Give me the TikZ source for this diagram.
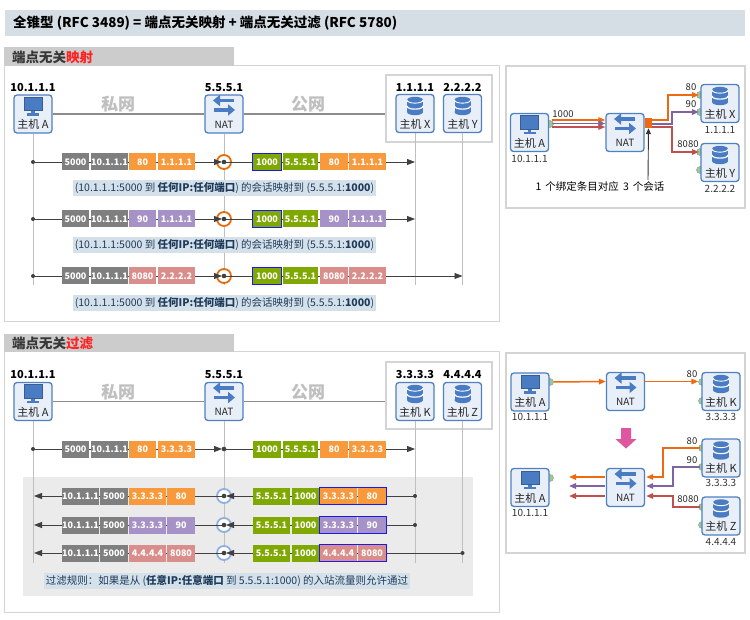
\documentclass[tikz,border=0pt]{standalone}
\usepackage{fontspec}
\setmainfont{Noto Sans CJK SC}
\usetikzlibrary{arrows.meta}
\definecolor{titlebg}{HTML}{D6DEE5}
\definecolor{hdrbg}{HTML}{CCCCCC}
\definecolor{hdrred}{HTML}{FF2222}
\definecolor{framegray}{HTML}{D4D4D4}
\definecolor{boxfill}{HTML}{E8EFF8}
\definecolor{boxline}{HTML}{4F80C2}
\definecolor{iconblue}{HTML}{4A7CC4}
\definecolor{cgray}{HTML}{7F7F7F}
\definecolor{corange}{HTML}{F89A3C}
\definecolor{cpurple}{HTML}{A692C6}
\definecolor{cpink}{HTML}{DA8E8C}
\definecolor{cgreen}{HTML}{7FA800}
\definecolor{capbg}{HTML}{D5E1EA}
\definecolor{captext}{HTML}{1F3B5A}
\definecolor{ringorange}{HTML}{E46C0A}
\definecolor{ringblue}{HTML}{8EB0E0}
\definecolor{lifegray}{HTML}{BFBFBF}
\definecolor{netgray}{HTML}{8C8C8C}
\definecolor{nettext}{HTML}{BFBFBF}
\definecolor{linedark}{HTML}{404040}
\definecolor{aorange}{HTML}{EE6A12}
\definecolor{apurple}{HTML}{8064A2}
\definecolor{ared}{HTML}{C0504D}
\definecolor{portgreen}{HTML}{9CC89C}
\definecolor{pinkarr}{HTML}{E0559F}
\definecolor{bluebd}{HTML}{1A1AF0}
\definecolor{panelbg}{HTML}{EBEBEB}
\tikzset{
 hostbox/.style={draw=boxline, fill=boxfill, line width=1.3pt, rounded corners=3pt, minimum width=38pt, minimum height=38pt, inner sep=0pt},
 boxlabel/.style={font=\fontsize{11}{12}\selectfont, text=black!85, inner sep=0pt},
 toplabel/.style={font=\fontsize{11}{12}\selectfont\bfseries, inner sep=0pt},
 iplabel/.style={font=\fontsize{10}{11}\selectfont, text=black!80, inner sep=0pt},
 smalllabel/.style={font=\fontsize{9.5}{10}\selectfont, text=black!85, inner sep=0pt},
 cell/.style={minimum height=17pt, inner sep=0pt, text=white, font=\fontsize{9}{10}\selectfont\bfseries},
 caption/.style={fill=capbg, text=captext, inner xsep=2pt, inner ysep=2pt, font=\fontsize{10.5}{12}\selectfont},
 rowline/.style={draw=linedark, line width=0.9pt},
 rowarrow/.style={rowline, -{Triangle[length=8pt,width=6pt]}},
 lifeline/.style={draw=lifegray, line width=1pt},
 netline/.style={draw=netgray, line width=1.5pt},
 nettxt/.style={font=\fontsize{17}{18}\selectfont\bfseries, text=nettext, inner sep=0pt},
 ringo/.style={circle, minimum size=14pt, inner sep=0pt, fill=white, draw=ringorange, line width=1.8pt},
 ringb/.style={circle, minimum size=14pt, inner sep=0pt, fill=white, draw=ringblue, line width=1.8pt},
 natarr/.style={draw=iconblue, line width=3.4pt, -{Triangle[length=7pt,width=11pt]}},
 grpbox/.style={draw=framegray, fill=white, line width=1.2pt, minimum width=106pt, minimum height=67pt, inner sep=0pt},
 flow/.style={line width=1.5pt, -{Triangle[length=7pt,width=5.5pt]}},
 port/.style={fill=portgreen, draw=portgreen!80!black, line width=0.4pt},
}
\newcommand{\hostpc}[4]{%
  \node[hostbox] (#1) at (#2,#3) {};
  \begin{scope}[shift={(#1.center)}]
    \fill[iconblue!75!black] (-9.5,-17) rectangle (9.5,-2.5);
    \fill[iconblue] (-8.5,-16) rectangle (8.5,-3.5);
    \fill[iconblue] (-1.8,-2.5) rectangle (1.8,0);
    \fill[iconblue] (-6,-0.5) rectangle (6,1.6);
    \node[boxlabel] (#1-t) at (0,10.5) {#4};
  \end{scope}}
\newcommand{\hostdb}[4]{%
  \node[hostbox] (#1) at (#2,#3) {};
  \begin{scope}[shift={(#1.center)}]
    \fill[iconblue] (-8,-13.5) rectangle (8,-1.5);
    \fill[iconblue] (0,-13.5) ellipse (8 and 3.2);
    \fill[iconblue] (0,-1.5) ellipse (8 and 3.2);
    \draw[white,line width=0.9pt] (-8,-13.5) .. controls (-8,-9.3) and (8,-9.3) .. (8,-13.5);
    \draw[white,line width=1.2pt] (-8,-7.5) .. controls (-8,-3.3) and (8,-3.3) .. (8,-7.5);
    \node[boxlabel] (#1-t) at (0,10.5) {#4};
  \end{scope}}
\newcommand{\hostnat}[3]{%
  \node[hostbox] (#1) at (#2,#3) {};
  \begin{scope}[shift={(#1.center)}]
    \draw[natarr] (10,-13.5) -- (-11,-13.5);
    \draw[natarr] (-10,-4) -- (11,-4);
    \node[boxlabel, font=\fontsize{10}{11}\selectfont] (#1-t) at (0,10.5) {NAT};
  \end{scope}}
\newcommand{\pkt}[6]{\node[cell, fill=#5, minimum width={(#3-#2)*1pt}] (#1) at ({(#2+#3)/2},#4) {#6};}
\newcommand{\outrow}[5]{% prefix, y, colour, port, ip
  \pkt{#1a}{62}{89}{#2}{cgray}{5000}
  \pkt{#1b}{91}{128}{#2}{cgray}{10.1.1.1}
  \pkt{#1c}{129}{156}{#2}{#3}{#4}
  \pkt{#1d}{158}{195}{#2}{#3}{#5}
  \pkt{#1e}{253}{281}{#2}{cgreen}{1000}
  \pkt{#1f}{283}{318}{#2}{cgreen}{5.5.5.1}
  \pkt{#1g}{320}{348}{#2}{#3}{#4}
  \pkt{#1h}{349}{386}{#2}{#3}{#5}}
\newcommand{\inrow}[5]{% prefix, y, colour, ip, port
  \pkt{#1a}{62}{99}{#2}{cgray}{10.1.1.1}
  \pkt{#1b}{100}{128}{#2}{cgray}{5000}
  \pkt{#1c}{129}{166}{#2}{#3}{#4}
  \pkt{#1d}{167}{195}{#2}{#3}{#5}
  \pkt{#1e}{253}{290}{#2}{cgreen}{5.5.5.1}
  \pkt{#1f}{292}{319}{#2}{cgreen}{1000}
  \pkt{#1g}{320}{357}{#2}{#3}{#4}
  \pkt{#1h}{358}{386}{#2}{#3}{#5}
  \draw[draw=bluebd, line width=1.3pt] (#1g.north west) rectangle (#1h.south east);}
\begin{document}
\begin{tikzpicture}[x=1pt,y=-1pt]
\useasboundingbox (0,0) rectangle (750,620);
\fill[white] (0,0) rectangle (750,620);
% title
\fill[titlebg] (5,10) rectangle (745,36);
\node[anchor=west, font=\fontsize{13.5}{15}\selectfont\bfseries, inner sep=0pt] (title) at (13,23) {全锥型 (RFC 3489) = 端点无关映射 + 端点无关过滤 (RFC 5780)};
% section frames
\draw[framegray, line width=1pt] (4,66) rectangle (499,322);
\fill[hdrbg] (4,47) rectangle (234,66);
\node[anchor=west, font=\fontsize{13.5}{15}\selectfont\bfseries, text=black!78, inner sep=0pt] (h1) at (12,57) {端点无关\textcolor{hdrred}{映射}};
\draw[framegray, line width=1pt] (4,352) rectangle (499,612);
\fill[hdrbg] (4,334) rectangle (234,352);
\node[anchor=west, font=\fontsize{13.5}{15}\selectfont\bfseries, text=black!78, inner sep=0pt] (h2) at (12,343) {端点无关\textcolor{hdrred}{过滤}};
\draw[framegray, line width=1.3pt] (506,66) rectangle (745,208);
\draw[framegray, line width=1.3pt] (506,353) rectangle (745,553);
\fill[panelbg] (23,477) rectangle (473,596);

% ================= section 1 =================
\node[grpbox] (G1) at (439,108.5) {};
\coordinate (bot1) at (0,285);
\hostpc{A1}{33}{114}{主机 A}
\hostnat{N1}{224}{114}
\hostdb{X1}{415}{113.5}{主机 X}
\hostdb{Y1}{462.5}{113.5}{主机 Y}
\node[toplabel] (A1ip) at (33,88) {10.1.1.1};
\node[toplabel] (N1ip) at (224,88) {5.5.5.1};
\node[toplabel] (X1ip) at (415,88) {1.1.1.1};
\node[toplabel] (Y1ip) at (462.5,88) {2.2.2.2};
\draw[netline] (A1) -- (N1);
\draw[netline] (N1) -- (N1 -| G1.west);
\node[nettxt] (pv1) at (118,104) {私网};
\node[nettxt] (pb1) at (308,104) {公网};
\draw[lifeline] (A1.south) -- (A1.south |- bot1);
\draw[lifeline] (N1.south) -- (N1.south |- bot1);
\draw[lifeline] (X1.south) -- (X1.south |- bot1);
\draw[lifeline] (Y1.south) -- (Y1.south |- bot1);

\foreach \yy/\ee/\nm in {162/415/1, 219/415/2, 276/462.5/3}{
  \coordinate (s\nm) at (33,\yy);
  \coordinate (e\nm) at (\ee,\yy);
  \node[ringo] (R\nm) at (224,\yy) {};
  \draw[rowarrow] (s\nm) -- ([xshift=-2pt]R\nm.center);
  \draw[rowarrow] (R\nm.center) -- (e\nm);
  \fill[linedark] (s\nm) circle (2);
  \fill[linedark] (R\nm.center) circle (2.3);
}
\outrow{p}{162}{corange}{80}{1.1.1.1}
\outrow{q}{219}{cpurple}{90}{1.1.1.1}
\outrow{r}{276}{cpink}{8080}{2.2.2.2}
\foreach \nm in {pe,qe,re}{\draw[draw=bluebd, line width=1.3pt] (\nm.north west) rectangle (\nm.south east);}
\node[caption] (cap1) at (224.5,188) {(10.1.1.1:5000 到 \textbf{任何IP:任何端口}) 的会话映射到 (5.5.5.1:\textbf{1000})};
\node[caption] (cap2) at (224.5,245) {(10.1.1.1:5000 到 \textbf{任何IP:任何端口}) 的会话映射到 (5.5.5.1:\textbf{1000})};
\node[caption] (cap3) at (224.5,303) {(10.1.1.1:5000 到 \textbf{任何IP:任何端口}) 的会话映射到 (5.5.5.1:\textbf{1000})};

% ================= section 2 =================
\node[grpbox] (G2) at (439,395.5) {};
\coordinate (bot2) at (0,563);
\hostpc{A2}{33}{401.5}{主机 A}
\hostnat{N2}{224}{401.5}
\hostdb{K2}{415}{401.5}{主机 K}
\hostdb{Z2}{462.5}{401.5}{主机 Z}
\node[toplabel] (A2ip) at (33,375) {10.1.1.1};
\node[toplabel] (N2ip) at (224,375) {5.5.5.1};
\node[toplabel] (K2ip) at (415,375) {3.3.3.3};
\node[toplabel] (Z2ip) at (462.5,375) {4.4.4.4};
\draw[netline] (A2) -- (N2);
\draw[netline] (N2) -- (N2 -| G2.west);
\node[nettxt] (pv2) at (118,392) {私网};
\node[nettxt] (pb2) at (308,392) {公网};
\draw[lifeline] (A2.south) -- (A2.south |- bot2);
\draw[lifeline] (N2.south) -- (N2.south |- bot2);
\draw[lifeline] (K2.south) -- (K2.south |- bot2);
\draw[lifeline] (Z2.south) -- (Z2.south |- bot2);

\coordinate (o0s) at (33,449);
\coordinate (o0m) at (224,449);
\coordinate (o0e) at (415,449);
\draw[rowarrow] (o0s) -- ([xshift=-2pt]o0m);
\draw[rowarrow] (o0m) -- (o0e);
\fill[linedark] (o0s) circle (2);
\fill[linedark] (o0m) circle (2.3);
\outrow{w}{449}{corange}{80}{3.3.3.3}

\foreach \yy/\ss/\nm in {496/415/1, 525/415/2, 553/462.5/3}{
  \coordinate (is\nm) at (\ss,\yy);
  \coordinate (ie\nm) at (34,\yy);
  \node[ringb] (B\nm) at (224,\yy) {};
  \draw[rowarrow] (is\nm) -- ([xshift=2pt]B\nm.center);
  \draw[rowarrow] (B\nm.center) -- (ie\nm);
  \fill[linedark] (is\nm) circle (2);
  \fill[linedark] (B\nm.center) circle (2.3);
}
\inrow{u}{496}{corange}{3.3.3.3}{80}
\inrow{v}{525}{cpurple}{3.3.3.3}{90}
\inrow{t}{553}{cpink}{4.4.4.4}{8080}
\node[caption] (cap4) at (227,581) {过滤规则：如果是从 (\textbf{任意IP:任意端口} 到 5.5.5.1:1000) 的入站流量则允许通过};

% ================= right panel 1 =================
\fill[port] (550,124) circle (3.5);
\fill[port] (700,95) circle (3.5);
\fill[port] (700,112) circle (3.5);
\fill[port] (700,152) circle (3.5);
\fill[port] (700,170) circle (3.5);
\hostpc{rA1}{529.5}{132.5}{主机 A}
\hostnat{rN1}{625}{132.5}
\hostdb{rX1}{720}{103.5}{主机 X}
\hostdb{rY1}{720}{162.5}{主机 Y}
\node[iplabel] (rA1ip) at (529.5,159) {10.1.1.1};
\node[iplabel] (rX1ip) at (720,130) {1.1.1.1};
\node[iplabel] (rY1ip) at (720,188.5) {2.2.2.2};
\draw[flow, aorange] ([xshift=3pt,yshift=12.5pt]rA1.east) -- ([yshift=12.5pt]rN1.west);
\draw[flow, apurple] ([xshift=3pt,yshift=9pt]rA1.east) -- ([yshift=9pt]rN1.west);
\draw[flow, ared] ([xshift=3pt,yshift=5.5pt]rA1.east) -- ([yshift=5.5pt]rN1.west);
\node[smalllabel] (l1000) at (563,114) {1000};
\node[fill=aorange, minimum width=7pt, minimum height=10pt, inner sep=0pt] (sq) at (648.5,123) {};
\draw[flow, aorange] (sq.east |- 0,120) -- (668,120) -- (668,95) -- (699,95);
\draw[flow, apurple] (sq.east |- 0,124) -- (672,124) -- (672,112) -- (699,112);
\draw[flow, ared] (sq.east |- 0,127) -- (672,127) -- (672,152) -- (699,152);
\node[smalllabel] (l80a) at (691,87) {80};
\node[smalllabel] (l90a) at (691,104) {90};
\node[smalllabel] (l8080a) at (688,144) {8080};
\coordinate (ptr) at (648,180);
\draw[draw=black!80, line width=0.9pt, -{Triangle[length=6pt,width=5pt]}] (ptr) -- (sq.south);
\node[font=\fontsize{10.5}{12}\selectfont, inner sep=0pt] (note) at (600,187) {1 \,个绑定条目对应 \,3 \,个会话};

% ================= right panel 2 =================
\fill[port] (550,382) circle (3.5);
\fill[port] (702,382) circle (3.5);
\fill[port] (702,401) circle (3.5);
\fill[port] (550,478) circle (3.5);
\fill[port] (702,448) circle (3.5);
\fill[port] (702,467) circle (3.5);
\fill[port] (702,507) circle (3.5);
\fill[port] (702,525) circle (3.5);
\hostpc{rA2}{530}{392}{主机 A}
\hostnat{rN2}{625.5}{391.5}
\hostdb{rK2}{721}{391.5}{主机 K}
\hostpc{rA3}{530}{487.5}{主机 A}
\hostnat{rN3}{625.5}{487.5}
\hostdb{rK3}{721}{458}{主机 K}
\hostdb{rZ3}{721}{516}{主机 Z}
\node[iplabel] (rA2ip) at (530,417) {10.1.1.1};
\node[iplabel] (rK2ip) at (721,417) {3.3.3.3};
\node[iplabel] (rA3ip) at (530,513) {10.1.1.1};
\node[iplabel] (rK3ip) at (721,483) {3.3.3.3};
\node[iplabel] (rZ3ip) at (721,542) {4.4.4.4};
\draw[flow, aorange] ([xshift=4pt,yshift=10pt]rA2.east) -- ([yshift=10pt]rN2.west);
\draw[flow, aorange] ([yshift=10pt]rN2.east) -- ([xshift=-3pt,yshift=10pt]rK2.west);
\node[smalllabel] (l80b) at (692,374) {80};
\fill[pinkarr] (621,428) -- (631,428) -- (631,439) -- (636.5,439) -- (626,448.5) -- (615.5,439) -- (621,439) -- cycle;
\draw[flow, aorange] (700,448) -- (663,448) -- (663,477) -- ([xshift=1pt]rN3.east |- 0,477);
\draw[flow, apurple] (700,467) -- (673,467) -- (673,486) -- ([xshift=1pt]rN3.east |- 0,486);
\draw[flow, ared] (700,507) -- (673,507) -- (673,496) -- ([xshift=1pt]rN3.east |- 0,496);
\node[smalllabel] (l80c) at (692,441) {80};
\node[smalllabel] (l90c) at (692,460) {90};
\node[smalllabel] (l8080c) at (688,499) {8080};
\draw[flow, aorange] ([xshift=-1pt]rN3.west |- 0,477) -- (569,477);
\draw[flow, apurple] ([xshift=-1pt]rN3.west |- 0,486) -- (569,486);
\draw[flow, ared] ([xshift=-1pt]rN3.west |- 0,496) -- (569,496);
\end{tikzpicture}
\end{document}
